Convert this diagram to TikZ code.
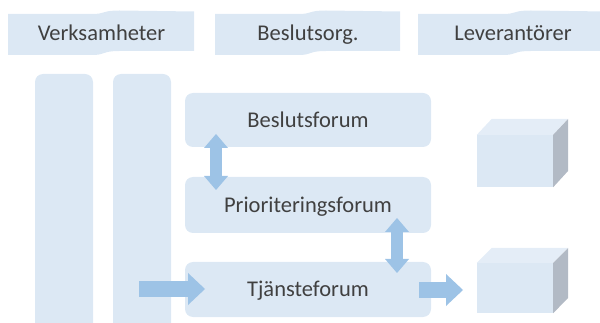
\documentclass[tikz,border=0pt]{standalone}
\usepackage{fontspec}
\setmainfont{Carlito}
\usetikzlibrary{arrows.meta}
\definecolor{boxfill}{HTML}{DCE8F4}
\definecolor{arrowblue}{HTML}{9DC3E6}
\definecolor{cubetopc}{HTML}{E4EDF7}
\definecolor{cubeside}{HTML}{B2BAC5}
\definecolor{txt}{HTML}{404040}
\newcommand\lblfont{\fontsize{22.5}{27}\selectfont}
\begin{document}
\begin{tikzpicture}[x=1pt,y=-1pt,
  forumbox/.style={rounded corners=8pt, fill=boxfill, minimum width=246pt,
    text=txt, font=\lblfont, text height=15pt, text depth=0pt, inner sep=0pt},
  colbox/.style={rounded corners=8pt, fill=boxfill, minimum width=58pt,
    minimum height=262pt, inner sep=0pt},
  bannertext/.style={text=txt, font=\lblfont, anchor=base, inner sep=0pt},
  bannerfill/.style={fill=boxfill},
  harrow/.style={draw=arrowblue, line width=16pt,
    -{Triangle[width=32pt,length=17pt,line width=0pt]}},
  varrow/.style={draw=arrowblue, line width=12pt,
    {Triangle[width=24pt,length=14pt,line width=0pt]}-{Triangle[width=24pt,length=14pt,line width=0pt]}},
  cubefront/.style={fill=boxfill, minimum width=76pt, inner sep=0pt},
  cubetop/.style={fill=cubetopc},
  cubesidef/.style={fill=cubeside}]
\useasboundingbox (0,0) rectangle (600,323);
\clip (0,0) rectangle (600,323);

% header banners
\foreach \a/\b in {8/194, 215/400, 418/606}{
  \fill[bannerfill] (\a,14) -- ({\a+0.45*(\b-\a)},14)
    .. controls ({\a+0.53*(\b-\a)},14) and ({\a+0.5*(\b-\a)},10.5) .. ({\a+0.6*(\b-\a)},10.5)
    -- (\b,11.5) -- (\b,51)
    -- ({\a+0.6*(\b-\a)},51)
    .. controls ({\a+0.5*(\b-\a)},51) and ({\a+0.53*(\b-\a)},55) .. ({\a+0.45*(\b-\a)},55)
    -- (\a,55) -- cycle;
}
\node[bannertext] (h1) at (101.5,41) {Verksamheter};
\node[bannertext] (h2) at (308,41) {Beslutsorg.};
\node[bannertext] (h3) at (513,41) {Leverantörer};

% columns
\node[colbox] (col1) at (64,205) {};
\node[colbox] (col2) at (142,205) {};

% forum boxes
\node[forumbox, minimum height=54pt] (bes) at (308,120) {Beslutsforum};
\node[forumbox, minimum height=56pt] (pri) at (308,205) {Prioriteringsforum};
\node[forumbox, minimum height=55pt] (tja) at (308,289.5) {Tjänsteforum};

% cubes
\node[cubefront, minimum height=52pt] (cube1) at (515,161) {};
\fill[cubetop] (cube1.north west) -- ++(15,-16) -- ++(76,0) -- (cube1.north east) -- cycle;
\fill[cubesidef] (cube1.south east) -- (cube1.north east) -- ++(15,-16) -- ++(0,52) -- cycle;
\node[cubefront, minimum height=50pt] (cube2) at (515,288) {};
\fill[cubetop] (cube2.north west) -- ++(15,-15) -- ++(76,0) -- (cube2.north east) -- cycle;
\fill[cubesidef] (cube2.south east) -- (cube2.north east) -- ++(15,-15) -- ++(0,50) -- cycle;

% arrows
\coordinate (inS) at (139,289);
\coordinate (inE) at (205,289);
\draw[harrow] (inS) -- (inE);
\coordinate (outS) at (419,290);
\coordinate (outE) at (463,290);
\draw[harrow] (outS) -- (outE);
\coordinate (v1a) at (216,134);
\coordinate (v1b) at (216,190);
\draw[varrow] (v1a) -- (v1b);
\coordinate (v2a) at (397,218);
\coordinate (v2b) at (397,273);
\draw[varrow] (v2a) -- (v2b);
\end{tikzpicture}
\end{document}
